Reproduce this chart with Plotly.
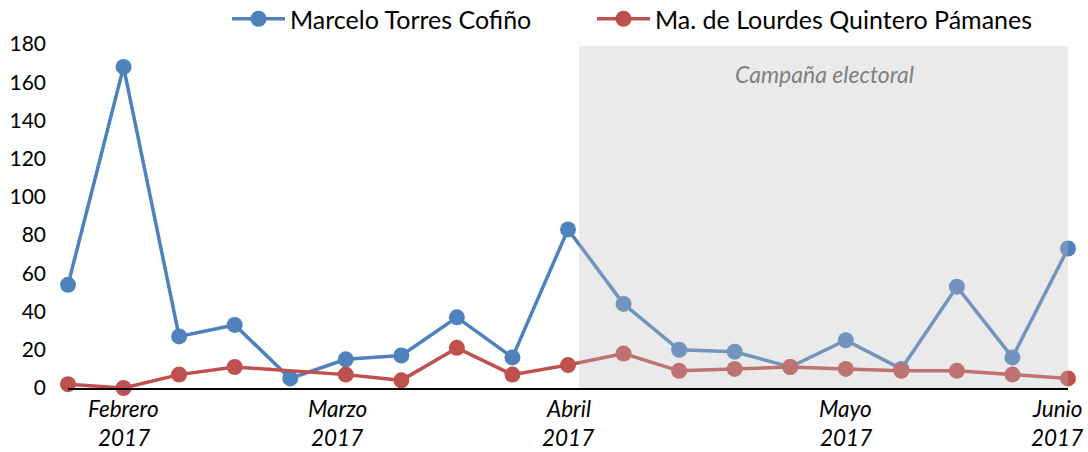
import plotly.graph_objects as go

# Weekly mentions per candidate, Feb–Jun 2017 (None = no data that week)
periods = list(range(19))
marcelo = [54, 168, 27, 33, 5, 15, 17, 37, 16, 83, 44, 20, 19, 11, 25, 10, 53, 16, 73]
lourdes = [2, 0, 7, 11, None, 7, 4, 21, 7, 12, 18, 9, 10, 11, 10, 9, 9, 7, 5]

month_names = ["Febrero", "Marzo", "Abril", "Mayo", "Junio"]
month_years = ["2017", "2017", "2017", "2017", "2017"]
month_pos = [1, 4.85, 9, 14, 17.8]

campaign_start, campaign_end = 9.2, 18.05
campaign_label = "Campaña electoral"

BLUE = "#4F81BD"
RED = "#C0504D"
FONT = "Lato"
W, H = 1088, 452
M_TOP, M_BOTTOM = 44, 64
PLOT_H = H - M_TOP - M_BOTTOM


def paper_y(px):
    """Convert a pixel row (from the top of the page) to paper y."""
    return (H - M_BOTTOM - px) / PLOT_H


fig = go.Figure()
fig.add_trace(go.Scatter(
    x=periods, y=marcelo, name="Marcelo Torres Cofiño", mode="lines+markers",
    line=dict(color=BLUE, width=3.5), marker=dict(color=BLUE, size=16),
    cliponaxis=False, connectgaps=True, legend="legend",
))
fig.add_trace(go.Scatter(
    x=periods, y=lourdes, name="Ma. de Lourdes Quintero Pámanes", mode="lines+markers",
    line=dict(color=RED, width=3.5), marker=dict(color=RED, size=16),
    cliponaxis=False, connectgaps=True, legend="legend2",
))

# translucent band over the campaign weeks
fig.add_shape(
    type="rect", xref="x", yref="y",
    x0=campaign_start, x1=campaign_end, y0=0, y1=179,
    fillcolor="rgb(190,190,190)", opacity=0.32, line=dict(width=0), layer="above",
)
fig.add_annotation(
    x=(campaign_start + campaign_end) / 2, y=164.5, xref="x", yref="y",
    text=campaign_label, showarrow=False,
    font=dict(family=FONT, size=23, color="#808080", style="italic"),
)

# two-line month labels under the axis
label_font = dict(family=FONT, size=22.5, color="#000000", style="italic")
for name, year, pos in zip(month_names, month_years, month_pos):
    fig.add_annotation(x=pos, y=paper_y(409), xref="x", yref="paper", yanchor="middle",
                       text=name, showarrow=False, font=label_font)
    fig.add_annotation(x=pos, y=paper_y(437), xref="x", yref="paper", yanchor="middle",
                       text=year, showarrow=False, font=label_font)

legend_style = dict(
    orientation="h", xref="container", xanchor="left",
    y=1 - 19 / H, yref="container", yanchor="middle",
    font=dict(family=FONT, size=25, color="#000000"),
    itemwidth=53, bgcolor="rgba(0,0,0,0)",
)

fig.update_layout(
    width=W, height=H,
    margin=dict(l=68, r=20, t=M_TOP, b=M_BOTTOM, autoexpand=False),
    paper_bgcolor="white", plot_bgcolor="white",
    font=dict(family=FONT, size=20, color="#000000"),
    showlegend=True,
    legend=dict(legend_style, x=227 / W),
    legend2=dict(legend_style, x=592 / W),
    xaxis=dict(
        range=[0, 18], showgrid=False, zeroline=False, showticklabels=False,
        showline=True, linecolor="#000000", linewidth=2, ticks="",
    ),
    yaxis=dict(
        range=[0, 180], tickvals=list(range(0, 181, 20)), showgrid=False,
        zeroline=False, showline=False, ticks="", ticklabelstandoff=21,
        tickfont=dict(family=FONT, size=21, color="#000000"),
    ),
)

fig.write_html("out.html")
